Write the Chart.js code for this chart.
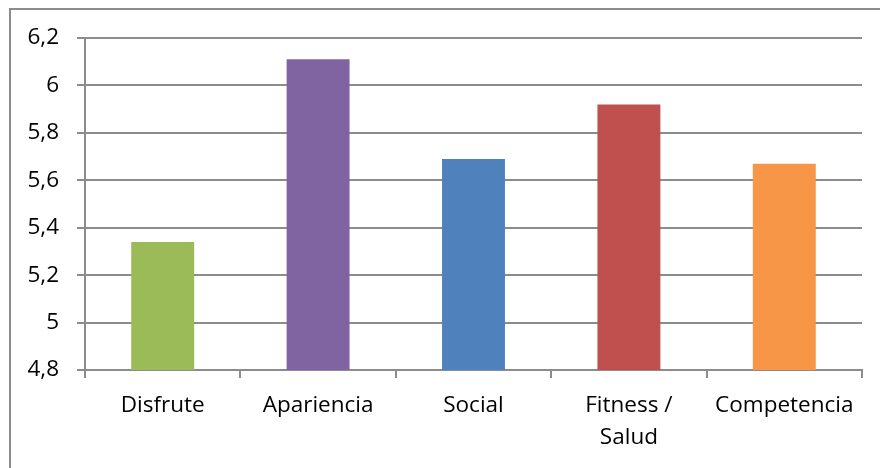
<!DOCTYPE html>
<html><head><meta charset="utf-8">
<script src="https://cdn.jsdelivr.net/npm/chart.js@4"></script>
<style>
html,body{margin:0;padding:0;background:#fff;overflow:hidden}
#wrap{position:relative;width:880px;height:468px}
#frame{position:absolute;left:9px;top:8px;width:900px;height:500px;border-left:2px solid #8c8c8c;border-top:2px solid #8c8c8c;box-sizing:border-box}
canvas{position:absolute;left:0;top:0}
</style></head>
<body>
<div id="wrap"><div id="frame"></div><canvas id="c" width="880" height="468"></canvas></div>
<script>
const categories = [["Disfrute"], ["Apariencia"], ["Social"], ["Fitness /", "Salud"], ["Competencia"]];
const values = [5.34, 6.11, 5.69, 5.92, 5.67];
const barColors = ["#9BBB59", "#8064A2", "#4F81BD", "#C0504D", "#F79646"];
const yMin = 4.8, yMax = 6.2, yStep = 0.2;

const gridColor = "#8c8c8c";
new Chart(document.getElementById('c'), {
  type: 'bar',
  data: {
    labels: categories,
    datasets: [{ data: values, backgroundColor: barColors, barPercentage: 0.405, categoryPercentage: 1 }]
  },
  options: {
    responsive: false, animation: false,
    layout: { padding: { left: 0, top: 38, right: 18, bottom: 0 } },
    plugins: { legend: { display: false }, tooltip: { enabled: false } },
    scales: {
      x: {
        grid: { display: true, drawOnChartArea: false, drawTicks: true, tickLength: 8, color: gridColor, lineWidth: 2, offset: true },
        border: { display: true, color: gridColor, width: 2 },
        ticks: { color: '#000', font: { family: 'Open Sans', size: 22.5, lineHeight: 1.4 }, padding: 12, maxRotation: 0, autoSkip: false },
        afterFit: s => { s.height = 98; }
      },
      y: {
        min: yMin, max: yMax,
        grid: { color: gridColor, lineWidth: 2, tickLength: 8 },
        border: { display: true, color: gridColor, width: 2 },
        ticks: {
          stepSize: yStep, color: '#000', font: { family: 'Open Sans', size: 22.5 }, padding: 18,
          callback: v => String(Math.round(v * 10) / 10).replace('.', ',')
        },
        afterFit: s => { s.width = 85; }
      }
    }
  }
});
</script>
</body></html>
